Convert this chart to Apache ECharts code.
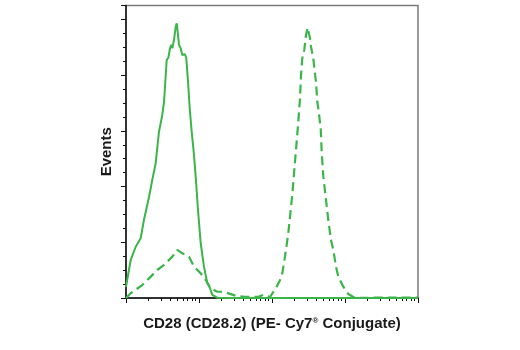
<!DOCTYPE html>
<html>
<head>
<meta charset="utf-8">
<script src="https://cdn.jsdelivr.net/npm/echarts@6/dist/echarts.min.js"></script>
<style>
  html, body { margin: 0; padding: 0; background: #fff; }
  #chart { width: 520px; height: 350px; }
</style>
</head>
<body>
<div id="chart"></div>
<script>
// Fluorescence intensity (log scale) and event counts for each histogram
const controlX = [1.0, 1.02, 1.16, 1.36, 1.59, 1.76, 2.07, 2.29, 2.55, 2.83, 3.14, 3.32, 3.50, 3.61, 3.80, 4.01, 4.17, 4.31, 4.54, 4.80, 4.95, 5.05, 5.32, 5.61, 5.90, 6.43, 6.70, 7.07, 7.46, 7.94, 8.54, 9.01, 9.69, 10.55, 11.70, 12.99, 14.15, 15.22, 17.81, 30, 100, 1000, 10000];
const controlY = [7.9, 10.6, 27.3, 36.8, 42.9, 56.0, 72.7, 84.7, 96.7, 119.4, 131.4, 140.9, 160.1, 170.9, 172.5, 179.3, 181.7, 179.3, 185.2, 194.8, 197.2, 193.6, 181.7, 179.3, 174.5, 175.0, 172.1, 155.3, 136.2, 119.4, 102.7, 87.1, 63.2, 39.3, 22.5, 10.6, 7.2, 2.2, 0.2, 0, 0, 0, 0];

const stainedX = [1.0, 1.16, 1.67, 2.07, 2.68, 3.32, 4.31, 5.05, 5.90, 7.29, 8.54, 10.55, 12.36, 14.46, 17.81, 21.5, 32.8, 42.7, 64.9, 76.0, 93.9, 115.9, 135.8, 150.7, 167.2, 180.4, 192.2, 202.0, 213.2, 229.2, 241.9, 249.6, 260.0, 276.8, 292.2, 308.4, 331.6, 342.1, 367.9, 379.6, 400.5, 417.5, 436.5, 464.6, 479.7, 504.7, 549.5, 590.5, 643.0, 691.5, 753.0, 809.6, 948.4, 1110, 1300, 1500, 3000, 10000];
const stainedY = [0, 3.4, 9.3, 14.1, 20.1, 23.7, 29.7, 34.5, 32.1, 29.7, 22.5, 17.7, 12.9, 7.0, 4.5, 4.5, 1.4, 0.9, 0.9, 2.2, 0.7, 8.1, 15.3, 29.7, 46.5, 63.2, 77.5, 91.9, 106.3, 126.6, 143.4, 160.1, 172.1, 178.1, 188.8, 194.1, 186.5, 180.4, 172.1, 164.9, 155.3, 140.9, 133.8, 121.8, 104.8, 87.1, 70.4, 56.0, 41.6, 34.5, 22.5, 15.3, 8.1, 2.9, 0.7, 0, 0.3, 0.3];

const xAxisTitle = 'CD28 (CD28.2) (PE- Cy7{sup|®} Conjugate)';
const yAxisTitle = 'Events';

const green = '#3bb54a';
const pair = (xs, ys) => xs.map((x, i) => [x, ys[i]]);

const chart = echarts.init(document.getElementById('chart'), null, { renderer: 'canvas' });
chart.setOption({
  animation: false,
  backgroundColor: '#fff',
  grid: {
    left: 126, right: 102, top: 5.5, bottom: 52,
    show: true, borderColor: '#7a7a7a', borderWidth: 1.5, backgroundColor: 'transparent'
  },
  xAxis: {
    type: 'log', logBase: 10, min: 1, max: 10000,
    name: xAxisTitle, nameLocation: 'middle', nameGap: 18,
    nameTextStyle: {
      fontFamily: '"Liberation Sans Narrow", "Arial Narrow", "Liberation Sans", sans-serif',
      fontWeight: 'bold', fontSize: 15, color: '#1a1a1a',
      rich: { sup: { fontFamily: '"Liberation Sans", sans-serif', fontSize: 8, fontWeight: 'bold', color: '#1a1a1a', padding: [0, 0, 6, 0] } }
    },
    axisLine: { show: true, lineStyle: { color: '#111', width: 1.5 } },
    axisTick: { show: true, inside: false, length: 5, lineStyle: { color: '#111', width: 1 } },
    minorTick: { show: true, splitNumber: 9, length: 3, lineStyle: { color: '#111', width: 1 } },
    axisLabel: { show: false },
    splitLine: { show: false },
    minorSplitLine: { show: false }
  },
  yAxis: {
    type: 'value', min: 0, max: 210, interval: 40,
    name: yAxisTitle, nameLocation: 'middle', nameGap: 12, nameRotate: 90,
    nameTextStyle: {
      fontFamily: '"Liberation Sans Narrow", "Arial Narrow", "Liberation Sans", sans-serif',
      fontWeight: 'bold', fontSize: 15, color: '#1a1a1a'
    },
    axisLine: { show: true, lineStyle: { color: '#111', width: 1.5 } },
    axisTick: { show: true, inside: false, length: 5, lineStyle: { color: '#111', width: 1 } },
    minorTick: { show: true, splitNumber: 4, length: 3, lineStyle: { color: '#111', width: 1 } },
    axisLabel: { show: false },
    splitLine: { show: false },
    minorSplitLine: { show: false }
  },
  series: [
    {
      type: 'line', data: pair(controlX, controlY), showSymbol: false, smooth: false,
      lineStyle: { color: green, width: 2 }, z: 3
    },
    {
      type: 'line', data: pair(stainedX, stainedY), showSymbol: false, smooth: false,
      lineStyle: { color: green, width: 2.2, type: [9, 5] }, z: 2
    }
  ]
});
</script>
</body>
</html>
